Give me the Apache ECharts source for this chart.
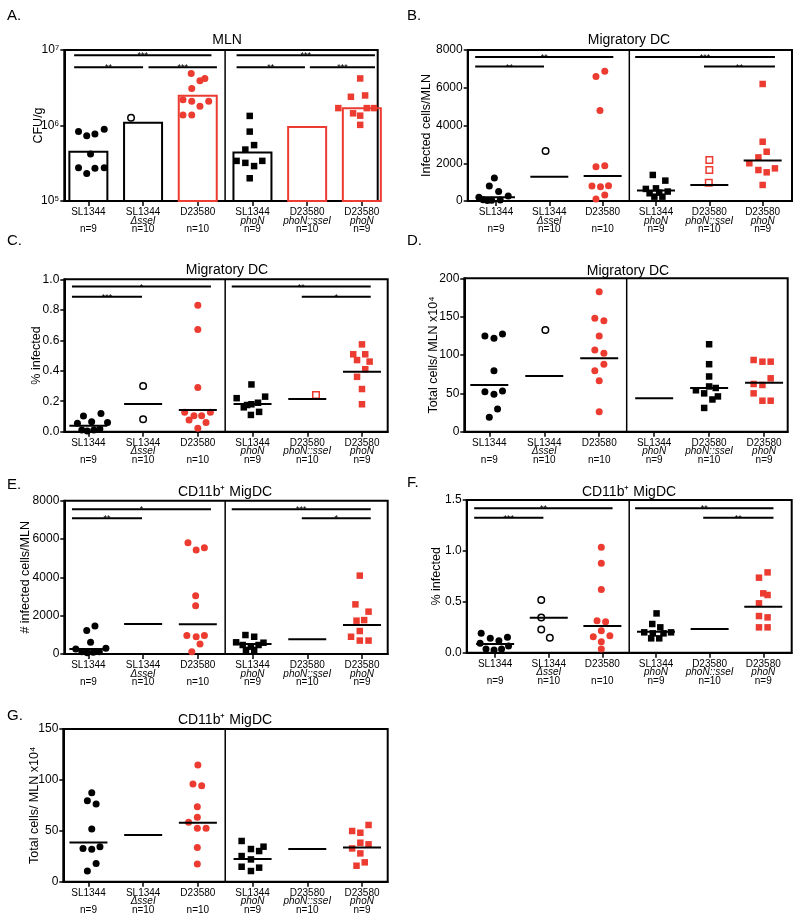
<!DOCTYPE html>
<html><head><meta charset="utf-8">
<script src="https://cdn.jsdelivr.net/npm/echarts@6/dist/echarts.min.js"></script>
<style>html,body{margin:0;padding:0;background:#fff}#c{width:800px;height:921px}</style>
</head><body><div id="c"></div>
<script>
// ---------- categories / labels ----------
const categories = ['SL1344', 'SL1344', 'D23580', 'SL1344', 'D23580', 'D23580'];
const strains = ['', 'ΔsseI', '', 'phoN', 'phoN::sseI', 'phoN'];
const nCounts = ['n=9', 'n=10', 'n=10', 'n=9', 'n=10', 'n=9'];
const xTickValues = [0, 1, 2, 3, 4, 5];
const dividerAt = 2.5;

// ---------- Panel A : MLN, CFU/g (log) ; points = [value, jitter] ----------
const A_points = [
  [[8.3e5,-0.18],[7.3e5,-0.03],[7.7e5,0.12],[8.9e5,0.29],[4.2e5,0.04],[2.76e5,-0.18],[2.32e5,-0.03],[2.71e5,0.12],[2.76e5,0.29]],
  [[1.27e6,-0.22]],
  [[4.9e6,-0.12],[3.9e6,0.04],[4.2e6,0.13],[3.1e6,-0.11],[2.2e6,-0.27],[2.1e6,-0.11],[1.8e6,0.04],[2.1e6,0.2],[1.38e6,-0.27],[1.38e6,-0.11]],
  [[1.34e6,-0.05],[8.3e5,-0.05],[5.5e5,0.03],[4.8e5,-0.13],[3.4e5,-0.29],[3.2e5,-0.13],[2.9e5,0.03],[3.4e5,0.18],[2.0e5,-0.05]],
  [],
  [[4.2e6,-0.03],[2.4e6,-0.2],[2.5e6,0.06],[1.7e6,-0.43],[1.45e6,-0.16],[1.35e6,-0.03],[1.7e6,0.09],[1.7e6,0.22],[1.02e6,-0.03]]
];
const A_bars = [4.5e5, 1.09e6, 2.48e6, 4.4e5, 9.55e5, 1.69e6];
const A_sig = [[-0.26,2.25,8.5e6,'***'],[-0.26,1.0,5.9e6,'**'],[1.1,2.35,5.9e6,'***'],[2.71,5.24,8.5e6,'***'],[2.71,3.96,5.9e6,'**'],[4.05,5.24,5.9e6,'***']];
const A_yTicks = [1e5, 1e6, 1e7];

// ---------- Panel B : Migratory DC, infected cells/MLN ----------
const B_points = [
  [[1220,-0.03],[800,-0.125],[500,0.05],[200,-0.32],[260,0.23],[60,-0.24],[20,-0.16],[40,-0.08],[50,0.08]],
  [[2650,-0.07]],
  [[6590,-0.125],[6870,0.04],[4790,-0.05],[1820,-0.125],[1870,0.04],[800,-0.2],[760,-0.04],[810,0.11],[320,0.04],[110,-0.125]],
  [[1380,-0.06],[1080,0.175],[640,-0.19],[670,0.0],[410,-0.12],[440,0.06],[500,0.22],[230,-0.03],[230,0.12]],
  [[2170,0],[1640,0],[970,-0.01]],
  [[6200,0],[3140,0],[2610,0.075],[2310,-0.08],[2000,-0.25],[1640,-0.08],[1520,0.075],[1730,0.23],[850,0]]
];
const B_lines = [200, 1290, 1325, 550, 850, 2140];
const B_sig = [[-0.39,2.2,7630,'**'],[-0.39,0.9,7120,'**'],[2.61,5.23,7630,'***'],[3.9,5.23,7120,'**']];
const B_yTicks = [0, 8000, 2000];

// ---------- Panel C : Migratory DC, % infected ----------
const C_points = [
  [[0.103,-0.09],[0.12,0.23],[0.055,-0.2],[0.066,0.06],[0.061,0.35],[0.011,-0.12],[0.005,-0.02],[0.011,0.1],[0.018,0.21]],
  [[0.30,0],[0.081,0]],
  [[0.83,0],[0.67,0],[0.29,0],[0.127,-0.24],[0.105,-0.07],[0.105,0.07],[0.127,0.23],[0.077,-0.16],[0.061,0.15],[0.022,0]],
  [[0.31,-0.02],[0.22,-0.29],[0.23,0.23],[0.16,-0.16],[0.18,-0.02],[0.19,0.1],[0.13,0.12],[0.11,-0.03],[0.175,-0.1]],
  [[0.24,0.16]],
  [[0.573,0],[0.508,-0.16],[0.508,0.06],[0.47,-0.09],[0.46,0.14],[0.41,0.06],[0.36,-0.09],[0.28,0],[0.18,0]]
];
const C_lines = [0.039, 0.182, 0.142, 0.182, 0.214, 0.394];
const C_sig = [[-0.3,2.24,0.952,'*'],[-0.3,0.98,0.886,'***'],[2.62,5.16,0.952,'**'],[3.9,5.16,0.886,'*']];
const C_yTicks = [0, 1, 0.2];

// ---------- Panel D : Migratory DC, total cells ----------
const D_points = [
  [[124.8,-0.08],[121.7,0.085],[127.4,0.24],[79.6,0.085],[52.2,-0.08],[48.7,0.085],[53,0.24],[29.6,0.15],[18.7,0]],
  [[132.6,0.02]],
  [[182.6,0],[147.8,-0.08],[144.8,0.085],[124.8,0],[106.5,-0.08],[102.2,0.085],[79.6,-0.08],[87.8,0.085],[66.5,0],[26.1,0]],
  [],
  [[114,0],[88,0],[72,0],[59,0],[54,-0.24],[50,-0.09],[57,0.12],[42,0.06],[46,0.16],[31,-0.09]],
  [[93.5,-0.19],[91.3,-0.03],[91.3,0.12],[69.6,0.12],[62.2,-0.19],[60.9,-0.03],[50,-0.19],[40.4,-0.03],[40.4,0.12]]
];
const D_lines = [60.9, 72.6, 95.7, 43.5, 57, 63.9];
const D_sig = [];
const D_yTicks = [0, 200, 50];

// ---------- Panel E : CD11b+ MigDC, # infected cells/MLN ----------
const E_points = [
  [[1460,0.12],[1220,-0.03],[610,0.04],[260,-0.23],[300,0.32],[120,-0.12],[70,-0.02],[90,0.09],[120,0.2]],
  [],
  [[5810,-0.18],[5430,-0.03],[5550,0.12],[3040,-0.04],[2520,-0.04],[960,-0.2],[900,-0.03],[960,0.12],[520,0.04],[120,-0.11]],
  [[990,-0.13],[900,0.03],[610,-0.3],[590,0.2],[470,-0.18],[380,-0.03],[470,0.11],[210,-0.12],[210,0.03]],
  [],
  [[4090,-0.04],[2590,-0.12],[2210,0.12],[1740,-0.1],[1770,0.04],[1200,-0.04],[900,-0.2],[700,-0.04],[700,0.12]]
];
const E_lines = [260, 1565, 1548, 520, 765, 1513];
const E_sig = [[-0.3,2.24,7550,'*'],[-0.3,0.98,7080,'**'],[2.62,5.16,7550,'***'],[3.9,5.16,7080,'*']];
const E_yTicks = [0, 8000, 2000];

// ---------- Panel F : CD11b+ MigDC, % infected ----------
const F_points = [
  [[0.19,-0.26],[0.141,-0.09],[0.118,0.07],[0.151,0.23],[0.092,-0.28],[0.036,-0.17],[0.026,-0.02],[0.036,0.12],[0.066,0.25]],
  [[0.517,-0.14],[0.347,-0.14],[0.229,-0.14],[0.147,0.02]],
  [[1.035,-0.02],[0.878,-0.02],[0.622,-0.02],[0.314,-0.1],[0.305,0.06],[0.157,-0.17],[0.216,-0.02],[0.167,0.14],[0.108,-0.02],[0.036,-0.02]],
  [[0.386,0.01],[0.282,-0.07],[0.249,0.08],[0.2,-0.22],[0.19,-0.06],[0.19,0.14],[0.2,0.28],[0.141,-0.09],[0.141,0.06]],
  [],
  [[0.737,-0.08],[0.789,0.08],[0.583,0],[0.567,0.08],[0.485,-0.08],[0.36,-0.08],[0.347,0.08],[0.249,-0.08],[0.249,0.08]]
];
const F_lines = [0.085, 0.344, 0.262, 0.206, 0.233, 0.452];
const F_sig = [[-0.39,2.19,1.418,'**'],[-0.39,0.9,1.326,'***'],[2.61,5.19,1.418,'**'],[3.88,5.19,1.326,'**']];
const F_yTicks = [0, 1.5, 0.5];

// ---------- Panel G : CD11b+ MigDC, total cells ----------
const G_points = [
  [[87.4,0.06],[79.6,-0.02],[76.3,0.14],[51.7,0.06],[32.7,-0.1],[31.8,0.06],[34.4,0.21],[18,0.14],[10.5,-0.02]],
  [],
  [[114.6,0],[96,-0.09],[94.3,0.07],[73.7,-0.01],[63.2,-0.01],[58.3,-0.17],[52.4,-0.01],[52.4,0.15],[33.7,-0.01],[17.4,-0.01]],
  [[40,-0.2],[32.1,-0.03],[34.4,0.2],[25.2,-0.2],[30.1,0.12],[21.9,-0.03],[14.7,-0.2],[13.8,0.12],[10.5,-0.03]],
  [],
  [[55.7,0.12],[49.8,-0.18],[48.1,-0.03],[38.3,-0.03],[36.7,0.12],[32.7,-0.18],[27.8,-0.03],[19,0.05],[15.7,-0.1]]
];
const G_lines = [38.6, 45.9, 58, 22.3, 32.1, 33.7];
const G_sig = [];
const G_yTicks = [0, 150, 50];

// ---------- styling / layout ----------
const FONT = '"Liberation Sans", Arial, Helvetica, sans-serif';
const RED = '#ec3b30';
const MARK = {
  dotBlack:  {symbol:'circle', size:7,   itemStyle:{color:'#000', opacity:1}},
  ringBlack: {symbol:'circle', size:6.5, itemStyle:{color:'#fff', borderColor:'#000', borderWidth:1.5, opacity:1}},
  dotRed:    {symbol:'circle', size:7,   itemStyle:{color:RED, opacity:1}},
  sqBlack:   {symbol:'rect',   size:6.5, itemStyle:{color:'#000', opacity:1}},
  sqRedOpen: {symbol:'rect',   size:6.5, itemStyle:{color:'#fff', borderColor:RED, borderWidth:1.5, opacity:1}},
  sqRed:     {symbol:'rect',   size:6.5, itemStyle:{color:RED, opacity:1}}
};
const defaultStyles = ['dotBlack','ringBlack','dotRed','sqBlack','sqRedOpen','sqRed'];
const barColors = ['#000','#000',RED,'#000',RED,RED];
const sup = {'4':'⁴','5':'⁵','6':'⁶','7':'⁷'};

const panels = [
  {letter:'A.', lpos:[7,8],   title:'MLN',           tpos:[227,33],  box:[64.3,50,377.7,201],   xr:[-0.44,5.29], yLog:A_yTicks, name:'CFU/g', gap:19, pts:A_points, bars:A_bars, lines:null, sig:A_sig, styles:defaultStyles},
  {letter:'B.', lpos:[407,8], title:'Migratory DC',  tpos:[629,33],  box:[467.7,50,792,201],    xr:[-0.53,5.55], yT:B_yTicks, name:'Infected cells/MLN', gap:35, pts:B_points, lines:B_lines, sig:B_sig, styles:defaultStyles},
  {letter:'C.', lpos:[7,233], title:'Migratory DC',  tpos:[227,263.5], box:[64.3,279.3,387.7,431.7], xr:[-0.44,5.47], yT:C_yTicks, dec:1, name:'% infected', gap:21, pts:C_points, lines:C_lines, sig:C_sig, styles:defaultStyles},
  {letter:'D.', lpos:[407,233], title:'Migratory DC', tpos:[628,264], box:[464.3,278.3,787.7,431.7], xr:[-0.455,5.43], yT:D_yTicks, name:'Total cells/ MLN x10⁴', gap:24, pts:D_points, lines:D_lines, sig:D_sig, styles:['dotBlack','ringBlack','dotRed','sqBlack','sqBlack','sqRed']},
  {letter:'E.', lpos:[7,477], title:'CD11b⁺ MigDC',  tpos:[225,485], box:[64.3,500.7,387.7,654], xr:[-0.44,5.47], yT:E_yTicks, name:'# infected cells/MLN', gap:32, pts:E_points, lines:E_lines, sig:E_sig, styles:defaultStyles},
  {letter:'F.', lpos:[407,475], title:'CD11b⁺ MigDC', tpos:[629,485], box:[466.7,500,791.7,652.7], xr:[-0.53,5.53], yT:F_yTicks, dec:1, name:'% infected', gap:24, pts:F_points, lines:F_lines, sig:F_sig, styles:defaultStyles},
  {letter:'G.', lpos:[7,708], title:'CD11b⁺ MigDC',  tpos:[225,713], box:[63.3,729,387.7,881.7], xr:[-0.46,5.47], yT:G_yTicks, name:'Total cells/ MLN x10⁴', gap:22, pts:G_points, lines:G_lines, sig:G_sig, styles:defaultStyles}
];

const grid = [], xAxis = [], yAxis = [], series = [], graphic = [];
panels.forEach((p, i) => {
  grid.push({left:p.box[0], top:p.box[1], width:p.box[2]-p.box[0], height:p.box[3]-p.box[1],
    show:true, borderColor:'#000', borderWidth:2, backgroundColor:'transparent'});
  xAxis.push({type:'value', gridIndex:i, min:p.xr[0], max:p.xr[1], splitLine:{show:false},
    axisLine:{show:true, onZero:false, lineStyle:{color:'#000', width:2}},
    axisTick:{show:true, customValues:xTickValues, length:5, lineStyle:{color:'#000', width:1.5}},
    axisLabel:{customValues:xTickValues, margin:7,
      formatter: v => { const k = Math.round(v); return '{a|' + categories[k] + '}\n{b|' + (strains[k] || ' ') + '}\n{a|' + nCounts[k] + '}'; },
      rich:{a:{fontSize:10, fontFamily:FONT, lineHeight:8.5, color:'#000'},
            b:{fontSize:10, fontFamily:FONT, fontStyle:'italic', lineHeight:8.5, color:'#000'}}}
  });
  let ymin, ymax;
  const ya = {gridIndex:i, name:p.name, nameLocation:'middle', nameRotate:90, nameGap:p.gap, nameMoveOverlap:false,
    nameTextStyle:{fontSize:12.5, fontFamily:FONT, color:'#000'},
    axisLine:{show:true, onZero:false, lineStyle:{color:'#000', width:2}},
    axisTick:{show:true, length:4, lineStyle:{color:'#000', width:1.5}},
    splitLine:{show:false}, minorTick:{show:false},
    axisLabel:{margin:5, fontSize:12, fontFamily:FONT, color:'#000'}};
  if (p.yLog) {
    ymin = p.yLog[0]; ymax = p.yLog[p.yLog.length-1];
    Object.assign(ya, {type:'log', logBase:10, min:ymin, max:ymax});
    ya.axisLabel.formatter = v => '10' + sup[String(Math.round(Math.log10(v)))];
  } else {
    ymin = p.yT[0]; ymax = p.yT[1];
    Object.assign(ya, {type:'value', min:ymin, max:ymax, interval:p.yT[2]});
    ya.axisLabel.formatter = p.dec ? (v => v.toFixed(p.dec)) : (v => String(Math.round(v)));
  }
  yAxis.push(ya);

  // bars (panel A)
  if (p.bars) {
    series.push({type:'custom', xAxisIndex:i, yAxisIndex:i, silent:true, z:2,
      data:p.bars.map((v, g) => [g, v]),
      renderItem:(params, api) => {
        const g = api.value(0), c = api.coord([g, api.value(1)]), b = api.coord([g, ymin]);
        return {type:'rect', shape:{x:c[0]-19, y:c[1], width:38, height:b[1]-c[1]},
          style:{fill:'none', stroke:barColors[params.dataIndex], lineWidth:2}};
      }});
  }
  // points
  p.pts.forEach((grp, g) => {
    if (!grp.length) return;
    const m = MARK[p.styles[g]];
    series.push({type:'scatter', xAxisIndex:i, yAxisIndex:i, silent:true, z:3,
      symbol:m.symbol, symbolSize:m.size, itemStyle:m.itemStyle,
      data:grp.map(([v, o]) => [g + o, v])});
  });
  // mean lines
  if (p.lines) {
    series.push({type:'custom', xAxisIndex:i, yAxisIndex:i, silent:true, z:4,
      data:p.lines.map((v, g) => [g, v]),
      renderItem:(params, api) => {
        const c = api.coord([api.value(0), api.value(1)]);
        return {type:'line', shape:{x1:c[0]-19, y1:c[1], x2:c[0]+19, y2:c[1]}, style:{stroke:'#000', lineWidth:2}};
      }});
  }
  // significance bars
  if (p.sig.length) {
    series.push({type:'custom', xAxisIndex:i, yAxisIndex:i, silent:true, z:4,
      data:p.sig.map(s => [s[0], s[2]]),
      renderItem:(params, api) => {
        const s = p.sig[params.dataIndex];
        const a = api.coord([s[0], s[2]]), b = api.coord([s[1], s[2]]);
        return {type:'group', children:[
          {type:'line', shape:{x1:a[0], y1:a[1], x2:b[0], y2:a[1]}, style:{stroke:'#000', lineWidth:2}},
          {type:'text', style:{text:s[3], x:(a[0]+b[0])/2, y:a[1]+5, align:'center', verticalAlign:'bottom', font:'9px ' + FONT, fill:'#000'}}
        ]};
      }});
  }
  // divider
  series.push({type:'custom', xAxisIndex:i, yAxisIndex:i, silent:true, z:4,
    data:[[dividerAt, ymin]],
    renderItem:(params, api) => {
      const a = api.coord([api.value(0), ymin]), b = api.coord([api.value(0), ymax]);
      return {type:'line', shape:{x1:a[0], y1:a[1], x2:b[0], y2:b[1]}, style:{stroke:'#000', lineWidth:1.5}};
    }});

  graphic.push({type:'text', x:p.tpos[0], y:p.tpos[1], style:{text:p.title, font:'14px ' + FONT, fill:'#000', align:'center', verticalAlign:'top'}});
  graphic.push({type:'text', x:p.lpos[0], y:p.lpos[1], style:{text:p.letter, font:'15px ' + FONT, fill:'#000', align:'left', verticalAlign:'top'}});
});

const chart = echarts.init(document.getElementById('c'), null, {renderer:'canvas'});
chart.setOption({animation:false, backgroundColor:'#fff', grid, xAxis, yAxis, series, graphic});
</script></body></html>
